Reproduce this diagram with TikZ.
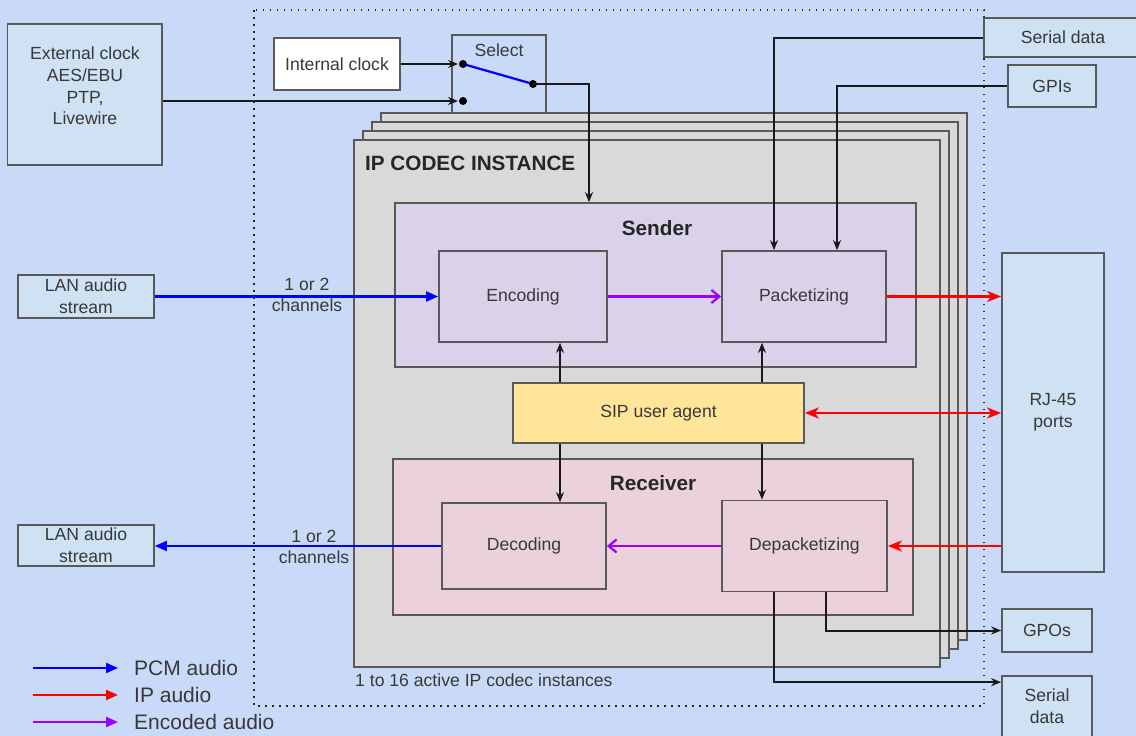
\documentclass[tikz,border=0pt]{standalone}
\usepackage{fontspec}
\setmainfont{Liberation Sans}
\usetikzlibrary{arrows.meta}

\definecolor{bgblue}{HTML}{C9DAF8}
\definecolor{ioblue}{HTML}{CFE2F3}
\definecolor{codecgray}{HTML}{D9D9D9}
\definecolor{sendpurple}{HTML}{D9D2E9}
\definecolor{recvpink}{HTML}{EAD1DC}
\definecolor{sipyellow}{HTML}{FFE599}
\definecolor{edge}{HTML}{595959}
\definecolor{encpurple}{HTML}{9900FF}

\tikzset{
  iptip/.tip={Stealth[length=14pt,width=11pt,inset=4pt]},
  pcmtip/.tip={Triangle[length=12pt,width=10pt]},
}

\begin{document}
\begin{tikzpicture}[x=1pt, y=-1pt,
  every node/.style={font=\fontsize{17.6}{21.6}\selectfont, text=black!78},
  box/.style={draw=edge, line width=1.7pt, inner sep=0pt},
  io/.style={box, fill=ioblue},
  title/.style={font=\bfseries\fontsize{20.7}{24}\selectfont, text=black!85, inner sep=0pt},
  sig/.style={draw=black!90, line width=2pt, -{Stealth[length=10pt,width=8pt]}},
  pcm/.style={draw=blue, line width=2.2pt, -pcmtip},
  ip/.style={draw=red, line width=2.2pt, -iptip},
  coded/.style={draw=encpurple, line width=2.2pt, -{Straight Barb[length=8pt,width=13pt]}},
  legendtxt/.style={anchor=west, inner sep=0pt, font=\fontsize{21}{25}\selectfont},
  ]
\fill[bgblue] (0,0) rectangle (1136,736);
\useasboundingbox (0,0) rectangle (1136,736);

% device boundary
\draw[black!85, line width=1.5pt, dash pattern=on 1.5pt off 5.5pt] (254,10) rectangle (984,706);

% clock selection
\node[box, minimum width=94pt, minimum height=78pt] (select) at (499,74) {};
\node[inner sep=0pt] (selecttext) at (499,50) {Select};
\node[box, fill=white, minimum width=126pt, minimum height=52pt] (intclk) at (337,64) {Internal clock};
\node[io, minimum width=154.5pt, minimum height=141pt] (extclk) at (84.75,94.5) {};
\node[align=center, inner sep=0pt] (extclktext) at (85,86) {External clock\\AES/EBU\\PTP,\\Livewire};
\coordinate (swin1) at (463,64);
\coordinate (swin2) at (463,101);
\coordinate (swout) at (533,84);

% stacked codec instances
\foreach \k in {3,2,1}
  \draw[box, fill=codecgray] (354+9*\k, 140-9*\k) rectangle (940+9*\k, 667-9*\k);
\node[box, fill=codecgray, minimum width=586pt, minimum height=527pt] (codec) at (647,403.5) {};
\node[title, anchor=west] (codectitle) at (365,163) {IP CODEC INSTANCE};
\node[anchor=west, inner sep=0pt] (codecnote) at (355,680) {1 to 16 active IP codec instances};

% sender and receiver
\node[box, fill=sendpurple, minimum width=521pt, minimum height=164pt] (sender) at (655.5,285) {};
\node[title] (sendertitle) at (657,228) {Sender};
\node[box, fill=recvpink, minimum width=520pt, minimum height=156pt] (receiver) at (653,537) {};
\node[title] (receivertitle) at (653,483) {Receiver};
\node[box, minimum width=168pt, minimum height=91pt] (encoding) at (523,296.5) {Encoding};
\node[box, minimum width=164pt, minimum height=91pt] (packetizing) at (804,296.5) {Packetizing};
\node[box, minimum width=164pt, minimum height=86pt] (decoding) at (524,546) {Decoding};
\node[box, minimum width=165pt, minimum height=91pt] (depacketizing) at (804.5,546) {Depacketizing};
\node[box, fill=sipyellow, minimum width=291pt, minimum height=60pt] (sip) at (658.5,413) {SIP user agent};

% outside world
\node[io, align=center, minimum width=136pt, minimum height=43pt] (lanin) at (86,296.5) {LAN audio\\stream};
\node[io, align=center, minimum width=136pt, minimum height=41pt] (lanout) at (86,545.5) {LAN audio\\stream};
\node[io, align=center, minimum width=102pt, minimum height=319pt] (rj45) at (1053,412.5) {RJ-45\\ports};
\node[io, minimum width=158pt, minimum height=39pt] (serialin) at (1063,37.5) {Serial data};
\node[io, minimum width=88pt, minimum height=42pt] (gpis) at (1052,86) {GPIs};
\node[io, minimum width=90pt, minimum height=43pt] (gpos) at (1047,630.5) {GPOs};
\node[io, align=center, minimum width=90pt, minimum height=61pt] (serialout) at (1047,706.5) {Serial\\data};
\node[align=center, inner sep=0pt] (chin) at (307,295) {1 or 2\\channels};
\node[align=center, inner sep=0pt] (chout) at (314,547) {1 or 2\\channels};

% audio paths
\draw[pcm] (lanin.east) -- (encoding.west);
\draw[pcm] (decoding.west) -- (decoding.west -| lanout.east);
\draw[coded] (encoding.east) -- (packetizing.west);
\draw[coded] (depacketizing.west) -- (decoding.east);
\draw[ip] (packetizing.east) -- (packetizing.east -| rj45.west);
\draw[ip, iptip-iptip] (sip.east) -- (sip.east -| rj45.west);
\draw[ip] (rj45.west |- depacketizing.east) -- (depacketizing.east);

% control
\draw[sig] (sip.north -| 560,0) -- (encoding.south -| 560,0);
\draw[sig] (sip.north -| 762,0) -- (packetizing.south -| 762,0);
\draw[sig] (sip.south -| 560,0) -- (decoding.north -| 560,0);
\draw[sig] (sip.south -| 762,0) -- (depacketizing.north -| 762,0);
\draw[sig] (intclk.east |- swin1) -- ([xshift=-5pt]swin1);
\draw[sig] (extclk.east |- swin2) -- ([xshift=-5pt]swin2);
\draw[blue, line width=2.2pt] (swin1) -- (swout);
\foreach \p in {swin1,swin2,swout}
  \fill[black] (\p) circle (4pt);
\draw[sig] (swout) -| (sender.north -| 589,0);
\draw[sig] (serialin.west) -| (packetizing.north -| 774,0);
\draw[sig] (gpis.west) -| (packetizing.north -| 837,0);
\draw[sig] (depacketizing.south -| 826,0) |- (gpos.west);
\draw[sig] (depacketizing.south -| 774,0) |- ([yshift=-7pt]serialout.north west);

% legend
\node[legendtxt] (lgpcm) at (134,668) {PCM audio};
\node[legendtxt] (lgip) at (134,695) {IP audio};
\node[legendtxt] (lgenc) at (134,722) {Encoded audio};
\draw[line width=2.2pt, -pcmtip, blue] ([xshift=-101pt]lgpcm.west) -- ([xshift=-16pt]lgpcm.west);
\draw[line width=2.2pt, -pcmtip, red] ([xshift=-101pt]lgip.west) -- ([xshift=-16pt]lgip.west);
\draw[line width=2.2pt, -pcmtip, encpurple] ([xshift=-101pt]lgenc.west) -- ([xshift=-16pt]lgenc.west);
\end{tikzpicture}
\end{document}
